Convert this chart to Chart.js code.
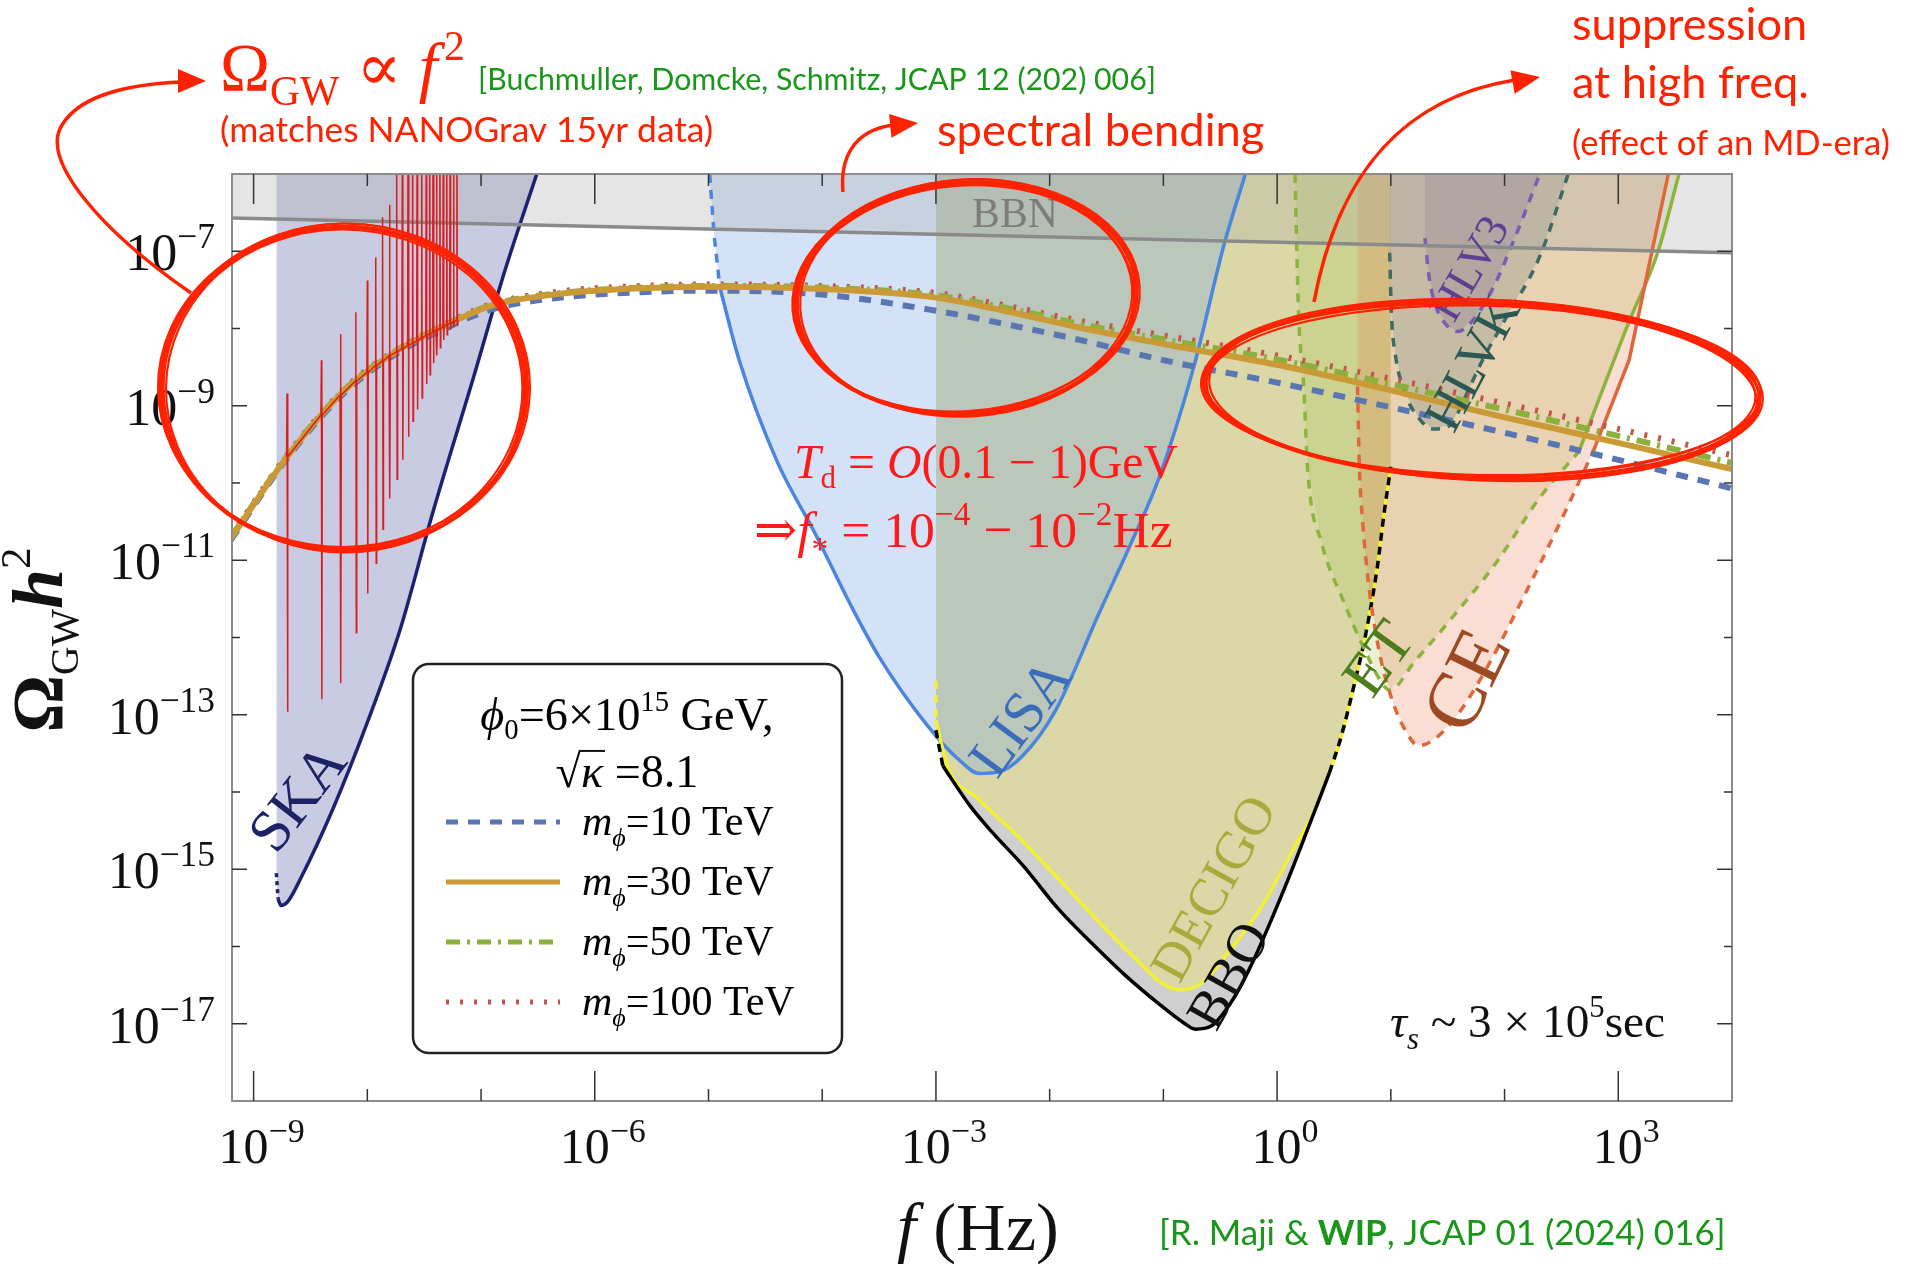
<!DOCTYPE html>
<html>
<head>
<meta charset="utf-8">
<script src="https://cdn.jsdelivr.net/npm/chart.js@4.4.1/dist/chart.umd.min.js"></script>
<style>
  html, body { margin: 0; padding: 0; background: #fff; }
  #wrap { width: 1912px; height: 1264px; }
</style>
</head>
<body>
<div id="wrap"><canvas id="gwChart" width="1912" height="1264"></canvas></div>
<script>
// all values are log10 (f in Hz, Omega_GW h^2)
const gwLogF   = [-9.2, -8.7, -8.2, -7.75, -7.3, -6.9, -6.3, -5.6, -5.0, -4.0, -3.0, -2.4, -1.7, -1.0, 0.0, 1.0, 2.0, 3.0, 4.0];
const omega10  = [-10.74, -9.67, -8.83, -8.33, -7.99, -7.75, -7.60, -7.53, -7.51, -7.56, -7.77, -7.94, -8.16, -8.41, -8.70, -9.02, -9.35, -9.70, -10.07];
const omega30  = [-10.72, -9.65, -8.80, -8.30, -7.95, -7.70, -7.55, -7.48, -7.46, -7.49, -7.60, -7.77, -8.00, -8.20, -8.47, -8.80, -9.15, -9.48, -9.82];
const omega50  = [-10.70, -9.64, -8.79, -8.29, -7.94, -7.69, -7.54, -7.47, -7.45, -7.47, -7.57, -7.73, -7.95, -8.14, -8.40, -8.72, -9.05, -9.39, -9.74];
const omega100 = [-10.69, -9.63, -8.78, -8.28, -7.93, -7.68, -7.52, -7.45, -7.43, -7.45, -7.54, -7.70, -7.91, -8.09, -8.35, -8.65, -8.97, -9.30, -9.64];

// oscillating red line (spikes)
const spikeLogF = [-8.704, -8.402, -8.234, -8.099, -7.998, -7.924, -7.864, -7.803, -7.74, -7.69, -7.64, -7.60, -7.56, -7.52, -7.48, -7.45, -7.42, -7.39, -7.36, -7.33, -7.30, -7.27, -7.24, -7.21];
const spikePeak = [-8.84, -8.41, -8.07, -7.79, -7.38, -7.08, -6.56, -6.40, -5.8, -5.5, -5.5, -5.5, -5.5, -5.5, -5.5, -5.5, -5.5, -5.5, -5.5, -5.5, -5.5, -5.5, -5.5, -5.5];
const spikeDip  = [-12.96, -12.80, -12.59, -11.94, -11.43, -11.04, -10.60, -10.20, -9.95, -9.70, -9.40, -9.20, -9.05, -8.90, -8.72, -8.60, -8.45, -8.35, -8.25, -8.15, -8.08, -8.02, -7.98, -7.95];
const spikeBase = [-9.66, -9.12, -8.86, -8.68, -8.57, -8.48, -8.42, -8.35, -8.30, -8.26, -8.22, -8.19, -8.16, -8.12, -8.09, -8.07, -8.05, -8.02, -8.00, -7.98, -7.95, -7.93, -7.91, -7.89];

// sensitivity curves
const bbnLogF = [-9.2, 4.0];
const bbnLogO = [-6.57, -7.02];

const skaLogF = [-8.80, -8.80, -8.785, -8.76, -8.70, -8.59, -8.30, -8.00, -7.71, -7.42, -7.07, -6.79, -6.51];
const skaLogO = [-6.0, -15.05, -15.38, -15.47, -15.42, -15.13, -14.21, -13.10, -11.89, -10.36, -8.65, -7.25, -6.0];

const lisaLogF = [-4.99, -4.95, -4.90, -4.73, -4.40, -4.06, -3.76, -3.50, -3.08, -2.80, -2.62, -2.45, -2.25, -1.95, -1.57, -1.26, -1.035, -0.733, -0.464, -0.279];
const lisaLogO = [-6.0, -6.8, -7.47, -8.41, -9.71, -10.66, -11.55, -12.25, -13.13, -13.58, -13.76, -13.74, -13.55, -12.95, -11.70, -10.70, -9.92, -8.50, -6.90, -6.0];

const bboLogF = [-3.0, -3.0, -2.94, -2.70, -2.50, -2.23, -1.92, -1.60, -1.33, -1.05, -0.82, -0.72, -0.58, -0.39, -0.23, 0.05, 0.28, 0.46, 0.56, 0.68, 0.78, 0.88, 0.94, 1.0, 1.0];
const bboLogO = [-6.0, -13.2, -13.66, -14.18, -14.53, -14.96, -15.52, -16.0, -16.38, -16.73, -16.99, -17.07, -17.03, -16.69, -16.25, -15.30, -14.44, -13.75, -13.30, -12.60, -11.95, -11.10, -10.40, -9.79, -6.0];

const decigoLogF = [-3.0, -3.0, -3.0, -2.90, -2.63, -2.31, -1.92, -1.53, -1.21, -1.02, -0.86, -0.66, -0.43, -0.15, 0.13, 0.32, 0.46, 0.56, 0.68, 0.78, 0.88, 0.94, 1.0, 1.0];
const decigoLogO = [-6.0, -12.56, -13.07, -13.66, -14.09, -14.53, -15.13, -15.74, -16.21, -16.47, -16.56, -16.47, -16.08, -15.52, -14.78, -14.27, -13.75, -13.30, -12.60, -11.95, -11.10, -10.40, -9.79, -6.0];

const etLogF = [0.157, 0.189, 0.236, 0.267, 0.393, 0.581, 0.738, 0.927, 0.99, 1.21, 1.524, 1.932, 2.309, 2.655, 3.095, 3.346, 3.534];
const etLogO = [-6.0, -7.81, -8.80, -9.79, -10.78, -11.52, -12.06, -12.60, -12.68, -12.31, -11.77, -11.02, -10.19, -9.59, -7.91, -7.02, -6.0];

const ceLogF = [0.707, 0.707, 0.723, 0.754, 0.801, 0.895, 1.021, 1.147, 1.241, 1.398, 1.587, 1.838, 2.152, 2.466, 2.780, 3.095, 3.440];
const ceLogO = [-6.0, -8.75, -9.79, -10.53, -11.27, -12.16, -12.85, -13.25, -13.40, -13.30, -13.00, -12.41, -11.52, -10.58, -9.59, -8.41, -6.0];

const hlvkLogF = [0.99, 0.99, 1.005, 1.037, 1.115, 1.241, 1.367, 1.524, 1.649, 1.806, 1.995, 2.309, 2.56];
const hlvkLogO = [-6.0, -7.02, -7.81, -8.31, -8.80, -9.15, -9.30, -9.25, -8.90, -8.41, -7.91, -7.07, -6.0];

const hlv3LogF = [1.30, 1.30, 1.335, 1.398, 1.492, 1.587, 1.712, 1.901, 2.089, 2.31];
const hlv3LogO = [-6.0, -6.83, -7.32, -7.72, -7.96, -8.04, -7.91, -7.47, -6.83, -6.0];

// axis ticks
const xTickExp = [-9, -8, -7, -6, -5, -4, -3, -2, -1, 0, 1, 2, 3];
const xLabelExp = [-9, -6, -3, 0, 3];
const yTickExp = [-17, -16, -15, -14, -13, -12, -11, -10, -9, -8, -7];
const yLabelExp = [-7, -9, -11, -13, -15, -17];

const legendMasses = ["10", "30", "50", "100"];

const SERIF = '"Liberation Serif", "DejaVu Serif", serif';
const SANS = 'Lato, "Open Sans", sans-serif';
const RED = "#ff2200";
const GREEN = "#1a961a";

function toPoints(logF, logO) {
    return logF.map((f, i) => ({ x: Math.pow(10, f), y: Math.pow(10, logO[i]) }));
}

function spikePoints() {
    let pts = [];
    for (let i = 0; i < spikeLogF.length; i++) {
        const f = spikeLogF[i];
        pts.push({ x: Math.pow(10, f - 0.006), y: Math.pow(10, spikeBase[i]) });
        pts.push({ x: Math.pow(10, f - 0.002), y: Math.pow(10, spikePeak[i]) });
        pts.push({ x: Math.pow(10, f + 0.002), y: Math.pow(10, spikeDip[i]) });
        pts.push({ x: Math.pow(10, f + 0.006), y: Math.pow(10, spikeBase[i]) });
    }
    return pts;
}

// detector: fill colour, line colour, visible pieces [from, to, dash]
const detectors = [
    { name: "BBN", f: bbnLogF, o: bbnLogO, line: "#8a8a8a", fill: "rgba(170,170,170,0.3)", parts: [[0, 1, []]], order: 10, fillOrder: 80 },
    { name: "HLV3", f: hlv3LogF, o: hlv3LogO, line: "#7a5cb4", fill: "rgba(110,80,150,0.2)", parts: [[1, 9, [9, 8]]], order: 11, fillOrder: 81 },
    { name: "HLVK", f: hlvkLogF, o: hlvkLogO, line: "#3c6a64", fill: "rgba(60,100,100,0.2)", parts: [[1, 12, [9, 8]]], order: 12, fillOrder: 82 },
    { name: "CE", f: ceLogF, o: ceLogO, line: "#e0663c", fill: "rgba(235,120,80,0.25)", parts: [[1, 14, [9, 8]], [14, 16, []]], order: 13, fillOrder: 83 },
    { name: "ET", f: etLogF, o: etLogO, line: "#8cb43c", fill: "rgba(150,190,60,0.22)", parts: [[0, 13, [9, 8]], [13, 16, []]], order: 14, fillOrder: 84 },
    { name: "BBO", f: bboLogF, o: bboLogO, line: "#000000", fill: "rgba(110,110,110,0.33)", parts: [[1, 2, [8, 6]], [2, 17, []], [17, 23, [8, 6]]], order: 15, fillOrder: 90 },
    { name: "DECIGO", f: decigoLogF, o: decigoLogO, line: "#f2f232", fill: "rgba(240,230,90,0.35)", parts: [[1, 2, [8, 6]], [2, 22, []]], order: 16, fillOrder: 89 },
    { name: "LISA", f: lisaLogF, o: lisaLogO, line: "#4a86e0", fill: "rgba(122,165,230,0.32)", parts: [[0, 2, [9, 7]], [2, 19, []]], order: 17, fillOrder: 87 },
    { name: "SKA", f: skaLogF, o: skaLogO, line: "#1d2270", fill: "rgba(60,70,150,0.28)", parts: [[1, 2, [4, 4]], [2, 12, []]], order: 18, fillOrder: 86 },
];

const styles = {
    m10: { color: "#5a76b2", dash: [12, 10] },
    m30: { color: "#c99a36", dash: [] },
    m50: { color: "#8db03c", dash: [14, 7, 3, 7] },
    m100: { color: "#c4544c", dash: [3, 11] },
};

function buildDatasets() {
    let sets = [];
    sets.push({
        label: "oscillation",
        data: spikePoints(),
        borderColor: "#d81e1e",
        borderWidth: 1.5,
        pointRadius: 0,
        fill: false,
        tension: 0,
        order: 0,
    });
    const gw = [["m=30 TeV", omega30, styles.m30, 1], ["m=50 TeV", omega50, styles.m50, 2], ["m=100 TeV", omega100, styles.m100, 3], ["m=10 TeV", omega10, styles.m10, 4]];
    gw.forEach((g) => {
        sets.push({
            label: g[0],
            data: toPoints(gwLogF, g[1]),
            borderColor: g[2].color,
            borderDash: g[2].dash,
            borderWidth: 6,
            pointRadius: 0,
            fill: false,
            cubicInterpolationMode: "monotone",
            order: g[3],
        });
    });
    detectors.forEach((d) => {
        const pts = toPoints(d.f, d.o);
        d.parts.forEach((p, k) => {
            const piece = pts.slice(p[0], p[1] + 1);
            sets.push({
                label: d.name + " line " + k,
                data: piece,
                borderColor: d.line,
                borderDash: p[2],
                borderWidth: 3.5,
                pointRadius: 0,
                fill: false,
                cubicInterpolationMode: piece.length > 3 ? "monotone" : "default",
                tension: 0,
                order: d.order,
            });
        });
        sets.push({
            label: d.name,
            data: pts,
            borderWidth: 0,
            borderColor: "rgba(0,0,0,0)",
            backgroundColor: d.fill,
            pointRadius: 0,
            fill: "end",
            tension: 0,
            order: d.fillOrder,
        });
    });
    return sets;
}

// ---------- rich text helper ----------
function fontOf(r, size, fam) {
    return (r.it ? "italic " : "") + (r.b ? "bold " : "") + (size * (r.k || 1)).toFixed(1) + "px " + (r.fam || fam);
}

function rich(ctx, runs, x, y, o) {
    const fam = o.fam || SERIF;
    const measure = (s) => runs.reduce((w, r) => {
        ctx.font = fontOf(r, s, fam);
        return w + ctx.measureText(r.t).width + (r.gap || 0) * s;
    }, 0);
    let size = o.size || 40;
    let w = measure(size);
    if (o.width) {
        size = size * o.width / w;
        w = measure(size);
    }
    ctx.save();
    ctx.translate(x, y);
    if (o.rot) ctx.rotate(o.rot);
    let cx = o.align === "center" ? -w / 2 : o.align === "right" ? -w : 0;
    const by = o.mid ? size * 0.33 : 0;
    ctx.fillStyle = o.color || "#000";
    ctx.textAlign = "left";
    ctx.textBaseline = "alphabetic";
    runs.forEach((r) => {
        cx += (r.gap || 0) * size;
        ctx.font = fontOf(r, size, fam);
        ctx.fillText(r.t, cx, by + (r.dy || 0) * size);
        cx += ctx.measureText(r.t).width;
    });
    ctx.restore();
    return size;
}

function sketchEllipse(ctx, cx, cy, rx, ry, rot) {
    const offs = [[0, 0, 0, 0, 0], [1.5, -1, 2.5, 1.5, 0.008], [-1.5, 1, -2, -2.5, -0.008], [1, 1.5, -3, 1, 0.012],
        [-1, -1.5, 3, -1.5, -0.01], [0, 1, 1, -1, 0.004], [0.5, -0.5, -1, 2, -0.004], [-0.5, 0.5, 2, 0.5, 0.006]];
    ctx.save();
    ctx.strokeStyle = RED;
    ctx.lineWidth = 2.2;
    offs.forEach((o) => {
        ctx.beginPath();
        ctx.ellipse(cx + o[0], cy + o[1], rx + o[2], ry + o[3], rot + o[4], 0, Math.PI * 2);
        ctx.stroke();
    });
    ctx.restore();
}

function arrow(ctx, segs, tip, dir) {
    ctx.save();
    ctx.strokeStyle = RED;
    ctx.fillStyle = RED;
    ctx.lineWidth = 3.5;
    ctx.beginPath();
    ctx.moveTo(segs[0][0], segs[0][1]);
    for (let i = 1; i < segs.length; i++) {
        const s = segs[i];
        ctx.bezierCurveTo(s[0], s[1], s[2], s[3], s[4], s[5]);
    }
    ctx.stroke();
    const L = 28, W = 12;
    const bx = tip[0] - dir[0] * L, by = tip[1] - dir[1] * L;
    ctx.beginPath();
    ctx.moveTo(tip[0], tip[1]);
    ctx.lineTo(bx - dir[1] * W, by + dir[0] * W);
    ctx.lineTo(bx + dir[1] * W, by - dir[0] * W);
    ctx.closePath();
    ctx.fill();
    ctx.restore();
}

const decor = {
    id: "decor",
    afterDraw(chart) {
        const ctx = chart.ctx;
        const xs = chart.scales.x, ys = chart.scales.y, a = chart.chartArea;

        // frame
        ctx.save();
        ctx.strokeStyle = "#8c8c8c";
        ctx.lineWidth = 2;
        ctx.strokeRect(a.left, a.top, a.right - a.left, a.bottom - a.top);

        // ticks
        ctx.strokeStyle = "#333";
        ctx.lineWidth = 1.5;
        xTickExp.forEach((k) => {
            const px = xs.getPixelForValue(Math.pow(10, k));
            const len = k % 3 === 0 ? 30 : 12;
            ctx.beginPath();
            ctx.moveTo(px, a.bottom); ctx.lineTo(px, a.bottom - len);
            ctx.moveTo(px, a.top); ctx.lineTo(px, a.top + len);
            ctx.stroke();
        });
        yTickExp.forEach((k) => {
            const py = ys.getPixelForValue(Math.pow(10, k));
            const len = k % 2 !== 0 ? 15 : 8;
            ctx.beginPath();
            ctx.moveTo(a.left, py); ctx.lineTo(a.left + len, py);
            ctx.moveTo(a.right, py); ctx.lineTo(a.right - len, py);
            ctx.stroke();
        });
        ctx.restore();

        const expStr = (k) => (k < 0 ? "\u2212" + (-k) : String(k));
        xLabelExp.forEach((k) => {
            const px = xs.getPixelForValue(Math.pow(10, k));
            rich(ctx, [{ t: "10" }, { t: expStr(k), k: 0.68, dy: -0.42 }], px + 8, 1163, { size: 50, align: "center", color: "#111" });
        });
        yLabelExp.forEach((k) => {
            const py = ys.getPixelForValue(Math.pow(10, k));
            rich(ctx, [{ t: "10" }, { t: expStr(k), k: 0.68, dy: -0.42 }], 215, py + 19, { size: 52, align: "right", color: "#111" });
        });

        // axis titles
        rich(ctx, [{ t: "\u03A9", b: true }, { t: "GW", k: 0.55, dy: 0.22 }, { t: "h", it: true, b: true }, { t: "2", k: 0.6, dy: -0.45 }],
            62, 640, { size: 62, width: 185, align: "center", rot: -Math.PI / 2, color: "#111" });
        rich(ctx, [{ t: "f", it: true }, { t: " (Hz)" }], 978, 1250, { size: 58, width: 162, align: "center", color: "#111" });

        // region labels
        const lab = (t, x, y, w, deg, color) =>
            rich(ctx, [{ t: t }], x, y, { size: 40, width: w, align: "center", rot: deg * Math.PI / 180, mid: true, color: color });
        lab("BBN", 1015, 213, 86, 0, "rgba(110,110,110,0.8)");
        lab("SKA", 297, 797, 118, -52, "#1d2266");
        lab("LISA", 1020, 717, 129, -53.5, "#3a6cb8");
        lab("DECIGO", 1213, 888, 202, -61, "#a9aa3c");
        lab("BBO", 1228, 975, 112, -60.6, "#111");
        lab("ET", 1378, 658, 75, -54, "#4d7d1c");
        lab("CE", 1466, 680, 102, -64, "#9c4a22");
        lab("HLVK", 1472, 363, 144, -62, "#2b5852");
        lab("HLV3", 1469, 268, 112, -60, "#5e3f92");

        // in-plot annotations
        rich(ctx, [{ t: "T", it: true }, { t: "d", k: 0.65, dy: 0.2 }, { t: " = " }, { t: "O", it: true }, { t: "(0.1 \u2212 1)GeV" }],
            794, 478, { size: 40, width: 384, color: "#ff1a1a" });
        rich(ctx, [{ t: "\u21D2" }, { t: "f", it: true }, { t: "*", k: 0.65, dy: 0.25 }, { t: " = 10" }, { t: "\u22124", k: 0.65, dy: -0.42 },
            { t: " \u2212 10" }, { t: "\u22122", k: 0.65, dy: -0.42 }, { t: "Hz" }],
            754, 547, { size: 40, width: 419, color: "#ff1a1a" });
        rich(ctx, [{ t: "\u03C4", it: true }, { t: "s", it: true, k: 0.65, dy: 0.25 }, { t: " ~ 3 \u00D7 10" }, { t: "5", k: 0.65, dy: -0.42 }, { t: "sec" }],
            1390, 1037, { size: 40, width: 275, color: "#111" });

        // legend box
        ctx.save();
        ctx.beginPath();
        ctx.roundRect(413, 664, 429, 389, 16);
        ctx.fillStyle = "#fff";
        ctx.fill();
        ctx.strokeStyle = "#222";
        ctx.lineWidth = 2.5;
        ctx.stroke();
        ctx.restore();
        rich(ctx, [{ t: "\u03D5", it: true }, { t: "0", k: 0.62, dy: 0.2 }, { t: "=6\u00D710" }, { t: "15", k: 0.62, dy: -0.42 }, { t: " GeV," }],
            627, 730, { size: 42, width: 293, align: "center" });
        const s2 = rich(ctx, [{ t: "\u221A" }, { t: "\u03BA", it: true }, { t: " =8.1" }], 627, 787, { size: 42, width: 143, align: "center" });
        ctx.save();
        ctx.font = fontOf({}, s2, SERIF);
        const sq = ctx.measureText("\u221A").width;
        ctx.font = fontOf({ it: true }, s2, SERIF);
        const kw = ctx.measureText("\u03BA").width;
        ctx.strokeStyle = "#111";
        ctx.lineWidth = 2;
        ctx.beginPath();
        ctx.moveTo(627 - 143 / 2 + sq - 2, 787 - s2 * 0.78);
        ctx.lineTo(627 - 143 / 2 + sq + kw + 2, 787 - s2 * 0.78);
        ctx.stroke();
        ctx.restore();

        const rowY = [835, 895, 955, 1015];
        const rowStyle = [styles.m10, styles.m30, styles.m50, styles.m100];
        legendMasses.forEach((m, i) => {
            ctx.save();
            ctx.strokeStyle = rowStyle[i].color;
            ctx.lineWidth = 5;
            ctx.setLineDash(rowStyle[i].dash);
            ctx.beginPath();
            ctx.moveTo(446, rowY[i] - 13);
            ctx.lineTo(560, rowY[i] - 13);
            ctx.stroke();
            ctx.restore();
            rich(ctx, [{ t: "m", it: true }, { t: "\u03D5", it: true, k: 0.62, dy: 0.25 }, { t: "=" + m + " TeV" }], 582, rowY[i], { size: 42 });
        });

        // top annotations
        rich(ctx, [{ t: "\u03A9" }, { t: "GW", k: 0.62, dy: 0.22 }, { t: " \u221D " }, { t: "f", it: true }, { t: "2", k: 0.62, dy: -0.45, gap: 0.1 }],
            220, 90, { size: 52, width: 245, color: RED });
        rich(ctx, [{ t: "[Buchmuller, Domcke, Schmitz, JCAP 12 (202) 006]" }], 478, 90, { size: 34, width: 679, fam: SANS, color: GREEN });
        rich(ctx, [{ t: "(matches NANOGrav 15yr data)" }], 220, 142, { size: 36, width: 493, fam: SANS, color: RED });
        rich(ctx, [{ t: "spectral bending" }], 937, 146, { size: 46, width: 327, fam: SANS, color: RED });
        rich(ctx, [{ t: "suppression" }], 1572, 40, { size: 46, width: 235, fam: SANS, color: RED });
        rich(ctx, [{ t: "at high freq." }], 1572, 98, { size: 46, width: 237, fam: SANS, color: RED });
        rich(ctx, [{ t: "(effect of an MD-era)" }], 1572, 155, { size: 36, width: 318, fam: SANS, color: RED });
        rich(ctx, [{ t: "[R. Maji & " }, { t: "WIP", b: true }, { t: ", JCAP 01 (2024) 016]" }], 1159, 1245, { size: 34, width: 567, fam: SANS, color: GREEN });

        // hand drawn marks
        sketchEllipse(ctx, 344, 388, 182, 162, 0.0);
        sketchEllipse(ctx, 966, 298, 170, 116, -0.07);
        sketchEllipse(ctx, 1482, 390, 277, 88, 0.03);
        arrow(ctx, [[191, 293], [100, 230, 40, 160, 62, 125], [80, 95, 130, 84, 182, 82]], [206, 81], [1, 0]);
        arrow(ctx, [[843, 192], [840, 160, 852, 130, 894, 125]], [918, 123], [0.99, -0.1]);
        arrow(ctx, [[1314, 302], [1335, 190, 1390, 100, 1515, 80]], [1540, 77], [0.98, -0.18]);
    },
};

const canvas = document.getElementById("gwChart");

new Chart(canvas, {
    type: "line",
    data: {
        datasets: buildDatasets(),
    },
    options: {
        responsive: false,
        maintainAspectRatio: false,
        animation: false,
        layout: { padding: { left: 0, top: 174, right: 180, bottom: 0 } },
        plugins: {
            legend: { display: false },
            tooltip: { enabled: false },
        },
        scales: {
            x: {
                type: "logarithmic",
                min: Math.pow(10, -9.19),
                max: 1e4,
                ticks: { display: false },
                grid: { display: false },
                border: { display: false },
                afterFit: (s) => { s.height = 163; },
            },
            y: {
                type: "logarithmic",
                min: 1e-18,
                max: 1e-6,
                ticks: { display: false },
                grid: { display: false },
                border: { display: false },
                afterFit: (s) => { s.width = 232; },
            },
        },
    },
    plugins: [decor],
});
</script>
</body>
</html>
